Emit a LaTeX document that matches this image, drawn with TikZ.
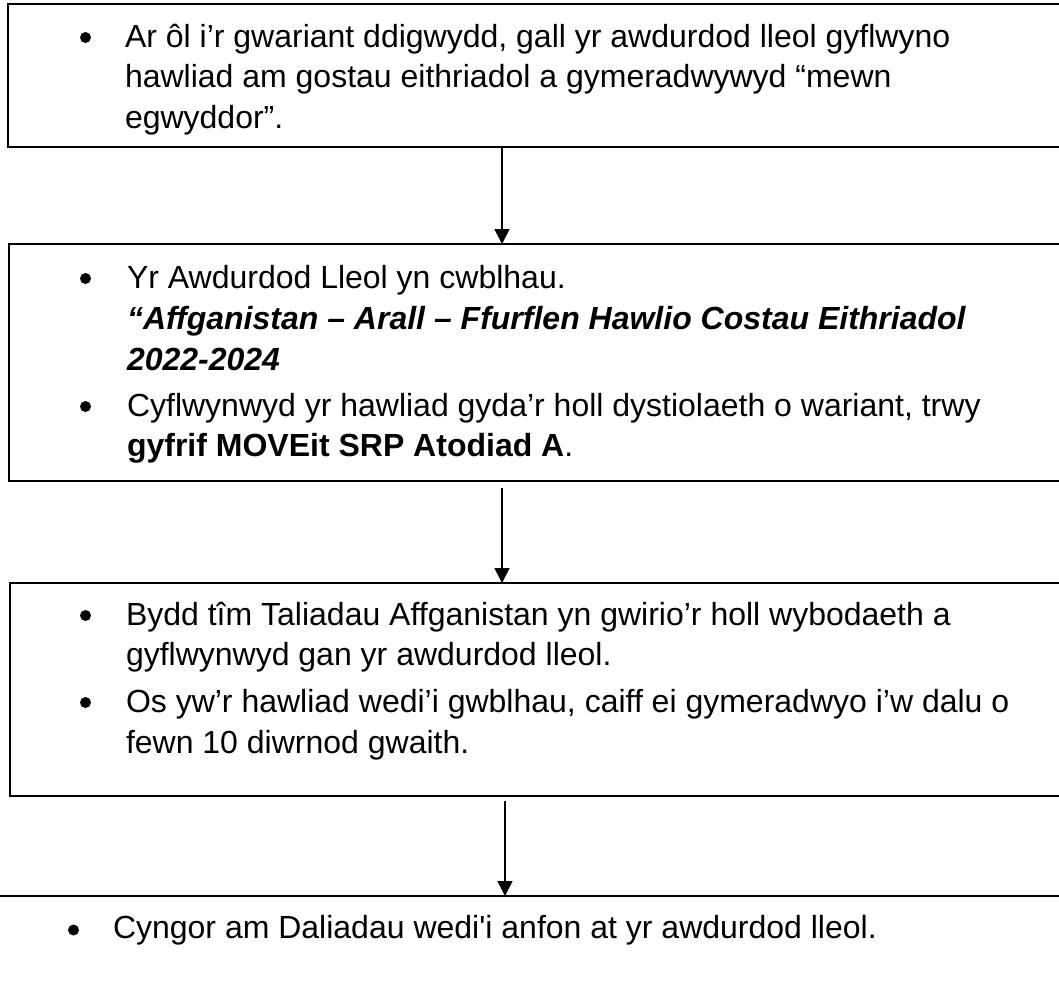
\documentclass[tikz,border=0pt]{standalone}
\usepackage{fontspec}
\newfontfamily\arial{Liberation Sans}
\usetikzlibrary{arrows.meta}
\tikzset{
  boxframe/.style={draw=black, line width=2pt, inner sep=0pt, outer sep=0pt, rectangle},
  txt/.style={anchor=base west, inner sep=0pt, outer sep=0pt, font=\arial\fontsize{32}{40}\selectfont},
  bul/.style={circle, fill=black, inner sep=0pt, outer sep=0pt, minimum size=11pt},
  flowarrow/.style={draw=black, line width=1.5pt, -{Triangle[width=15pt,length=15pt]}},
  rule/.style={draw=black, line width=2pt}
}
\begin{document}
\begin{tikzpicture}[x=1pt, y=-1pt]
\useasboundingbox (0,0) rectangle (1059,988);
% boxes
\node[boxframe, minimum width=1067pt, minimum height=143pt] (box1) at (541.5,75.5) {};
\node[boxframe, minimum width=1066pt, minimum height=237pt] (box2) at (542,362.5) {};
\node[boxframe, minimum width=1065pt, minimum height=213pt] (box3) at (542.5,689.5) {};
\coordinate (box4l) at (-5,896);
\coordinate (box4r) at (1064,896);
\draw[rule] (box4l) -- (box4r);
% box 1 text
\node[bul] (b1a) at (85.5,37.5) {};
\node[txt] (t1a) at (125,47) {Ar ôl i’r gwariant ddigwydd, gall yr awdurdod lleol gyflwyno};
\node[txt] (t1b) at (125,87.5) {hawliad am gostau eithriadol a gymeradwywyd “mewn};
\node[txt] (t1c) at (125,128) {egwyddor”.};
% box 2 text
\node[bul] (b2a) at (85.5,278.5) {};
\node[txt] (t2a) at (127,288) {Yr Awdurdod Lleol yn cwblhau.};
\node[txt] (t2b) at (127,329) {\bfseries\itshape “Affganistan – Arall – Ffurflen Hawlio Costau Eithriadol};
\node[txt] (t2c) at (127,370) {\bfseries\itshape 2022-2024};
\node[bul] (b2b) at (85.5,406.5) {};
\node[txt] (t2d) at (127,416) {Cyflwynwyd yr hawliad gyda’r holl dystiolaeth o wariant, trwy};
\node[txt] (t2e) at (127,456) {\bfseries gyfrif MOVEit SRP Atodiad A\mdseries .};
% box 3 text
\node[bul] (b3a) at (85.5,615.5) {};
\node[txt] (t3a) at (126,625) {Bydd tîm Taliadau Affganistan yn gwirio’r holl wybodaeth a};
\node[txt] (t3b) at (126,665) {gyflwynwyd gan yr awdurdod lleol.};
\node[bul] (b3b) at (85.5,702.5) {};
\node[txt] (t3c) at (126,712) {Os yw’r hawliad wedi’i gwblhau, caiff ei gymeradwyo i’w dalu o};
\node[txt] (t3d) at (126,753) {fewn 10 diwrnod gwaith.};
% box 4 text
\node[bul] (b4a) at (73.5,930) {};
\node[txt] (t4a) at (113,938) {Cyngor am Daliadau wedi'i anfon at yr awdurdod lleol.};
% arrows
\coordinate (ax1) at (502,0);
\coordinate (ax3) at (505,0);
\draw[flowarrow] (box1.south -| ax1) -- (box2.north -| ax1);
\draw[flowarrow, shorten <=7pt] (box2.south -| ax1) -- (box3.north -| ax1);
\draw[flowarrow, shorten <=5pt] (box3.south -| ax3) -- (box4l -| ax3);
\end{tikzpicture}
\end{document}
